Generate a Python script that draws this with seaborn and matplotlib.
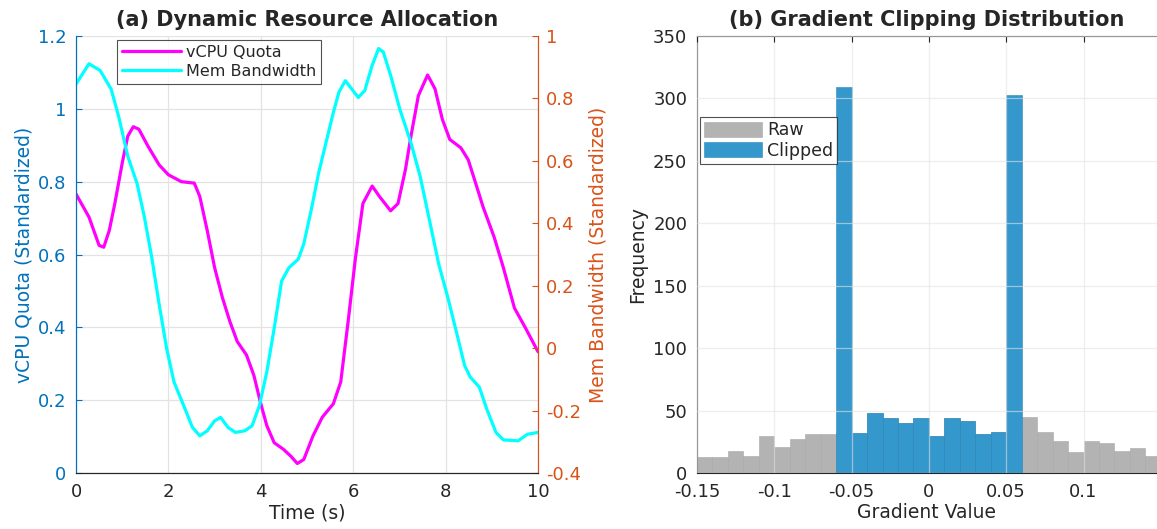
import matplotlib
matplotlib.use('Agg')
import matplotlib.pyplot as plt
import pandas as pd
import seaborn as sns

# ---- panel (a) data ----
t_cpu = [0.0, 0.28, 0.5, 0.6, 0.72, 0.84, 1.0, 1.12, 1.24, 1.36, 1.56, 1.8, 2.0, 2.28, 2.56,
         2.68, 2.84, 3.0, 3.17, 3.33, 3.49, 3.69, 3.85, 4.0, 4.13, 4.29, 4.49, 4.65, 4.79,
         4.93, 5.13, 5.33, 5.57, 5.73, 5.89, 6.05, 6.21, 6.41, 6.57, 6.81, 6.97, 7.13,
         7.25, 7.41, 7.61, 7.77, 7.93, 8.09, 8.33, 8.49, 8.65, 8.81, 9.05, 9.25, 9.49,
         9.73, 10.0]
vcpu = [0.766, 0.703, 0.625, 0.62, 0.666, 0.74, 0.851, 0.925, 0.951, 0.944, 0.897, 0.846,
        0.819, 0.80, 0.796, 0.759, 0.666, 0.564, 0.481, 0.416, 0.361, 0.324, 0.268, 0.19,
        0.13, 0.083, 0.065, 0.046, 0.026, 0.037, 0.102, 0.153, 0.19, 0.25, 0.416, 0.592,
        0.74, 0.788, 0.759, 0.72, 0.74, 0.833, 0.925, 1.036, 1.093, 1.055, 0.971, 0.916,
        0.893, 0.86, 0.796, 0.731, 0.648, 0.564, 0.453, 0.398, 0.333]

t_mem = [0.0, 0.28, 0.52, 0.76, 0.92, 1.12, 1.32, 1.48, 1.64, 1.8, 1.96, 2.12, 2.36, 2.52,
         2.68, 2.84, 3.0, 3.13, 3.29, 3.45, 3.65, 3.81, 3.97, 4.13, 4.29, 4.45, 4.61, 4.81,
         4.93, 5.09, 5.25, 5.41, 5.57, 5.69, 5.83, 5.97, 6.11, 6.25, 6.41, 6.55, 6.65,
         6.81, 7.01, 7.25, 7.45, 7.65, 7.85, 8.05, 8.25, 8.41, 8.53, 8.73, 8.89, 9.09,
         9.25, 9.57, 9.77, 10.0]
mem_bw = [0.846, 0.911, 0.89, 0.83, 0.744, 0.615, 0.528, 0.42, 0.29, 0.14, 0.0, -0.108,
          -0.195, -0.254, -0.281, -0.265, -0.233, -0.222, -0.254, -0.27, -0.265, -0.249,
          -0.184, -0.076, 0.064, 0.215, 0.258, 0.285, 0.334, 0.442, 0.56, 0.658, 0.755,
          0.82, 0.857, 0.83, 0.803, 0.825, 0.906, 0.96, 0.949, 0.874, 0.765, 0.658, 0.55,
          0.41, 0.27, 0.161, 0.042, -0.055, -0.092, -0.125, -0.195, -0.27, -0.294, -0.297,
          -0.276, -0.27]

# ---- panel (b) data: bin edges and counts ----
bin_edges = [round(-0.15 + 0.01 * i, 3) for i in range(31)]
raw_counts = [13, 13, 18, 14, 30, 21, 27, 31, 31,
              32, 32, 48, 44, 40, 44, 30, 44, 42, 31, 33, 33,
              45, 33, 26, 17, 26, 24, 18, 20, 14]
clip_counts = [0, 0, 0, 0, 0, 0, 0, 0, 0,
               309, 32, 48, 44, 40, 44, 30, 44, 42, 31, 33, 303,
               0, 0, 0, 0, 0, 0, 0, 0, 0]
bin_centers = [(a + b) / 2 for a, b in zip(bin_edges[:-1], bin_edges[1:])]
hist_df = pd.DataFrame({'grad': bin_centers, 'raw': raw_counts, 'clipped': clip_counts})

sns.set_style('white')
plt.rcParams['font.family'] = ['DejaVu Sans']

BLUE_AX = '#0072BD'
ORANGE_AX = '#D95319'
DARK = '#262626'
GRID = '#e3e3e3'
TICK_FS = 13
LABEL_FS = 13.5

fig = plt.figure(figsize=(11.57, 5.29), dpi=100)

# ---------------- (a) ----------------
ax1 = fig.add_axes([0.0657, 0.1059, 0.3993, 0.826])
ax2 = ax1.twinx()
sns.lineplot(x=t_cpu, y=vcpu, ax=ax1, color='#ff00ff', linewidth=2.3, sort=False,
             label='vCPU Quota', legend=False)
sns.lineplot(x=t_mem, y=mem_bw, ax=ax2, color='#00ffff', linewidth=2.3, sort=False,
             label='Mem Bandwidth', legend=False)
ax1.set_xlim(0, 10)
ax1.set_ylim(0, 1.2)
ax2.set_ylim(-0.4, 1.0)
ax1.set_xticks([0, 2, 4, 6, 8, 10])
ax1.set_yticks([0, 0.2, 0.4, 0.6, 0.8, 1.0, 1.2])
ax1.set_yticklabels(['0', '0.2', '0.4', '0.6', '0.8', '1', '1.2'])
ax2.set_yticks([-0.4, -0.2, 0, 0.2, 0.4, 0.6, 0.8, 1.0])
ax2.set_yticklabels(['-0.4', '-0.2', '0', '0.2', '0.4', '0.6', '0.8', '1'])
ax1.grid(True, color=GRID, linewidth=0.9)
ax1.set_axisbelow(True)
ax1.tick_params(axis='y', colors=BLUE_AX, direction='in', labelsize=TICK_FS, length=4, pad=7)
ax1.tick_params(axis='x', colors=DARK, direction='in', labelsize=TICK_FS, length=4, pad=7)
ax2.tick_params(axis='y', colors=ORANGE_AX, direction='in', labelsize=TICK_FS, length=4, pad=6)
ax1.set_xlabel('Time (s)', fontsize=LABEL_FS, color=DARK, labelpad=2)
ax1.set_ylabel('vCPU Quota (Standardized)', fontsize=LABEL_FS, color=BLUE_AX, labelpad=3)
ax2.set_ylabel('Mem Bandwidth (Standardized)', fontsize=LABEL_FS, color=ORANGE_AX, labelpad=5)
ax1.set_title('(a) Dynamic Resource Allocation', fontsize=15, fontweight='bold', pad=7)
for a in (ax1, ax2):
    a.spines['top'].set_visible(False)
    a.spines['left'].set_color(BLUE_AX)
    a.spines['right'].set_color(ORANGE_AX)
    a.spines['bottom'].set_color(DARK)
h1, l1 = ax1.get_legend_handles_labels()
h2, l2 = ax2.get_legend_handles_labels()
leg = ax1.legend(h1 + h2, l1 + l2, loc='upper left', bbox_to_anchor=(0.089, 0.991),
                 fontsize=11.5, frameon=True, fancybox=False, borderpad=0.3,
                 handlelength=3.7, handletextpad=0.3, labelspacing=0.25, borderaxespad=0)
leg.get_frame().set_edgecolor(DARK)
leg.get_frame().set_linewidth(0.8)

# ---------------- (b) ----------------
ax3 = fig.add_axes([0.6024, 0.1059, 0.3976, 0.826])
sns.histplot(data=hist_df, x='grad', weights='raw', bins=bin_edges, ax=ax3, color='#b3b3b3',
             alpha=1, edgecolor='#a8a8a8', linewidth=0.4, label='Raw')
sns.histplot(data=hist_df, x='grad', weights='clipped', bins=bin_edges, ax=ax3,
             color='#3498cc', alpha=1, edgecolor='#2c86b8', linewidth=0.4, label='Clipped')
ax3.set_xlim(-0.15, 0.1475)
ax3.set_ylim(0, 350)
ax3.set_xticks([-0.15, -0.1, -0.05, 0, 0.05, 0.1])
ax3.set_xticklabels(['-0.15', '-0.1', '-0.05', '0', '0.05', '0.1'])
ax3.set_yticks(range(0, 351, 50))
ax3.grid(True, color=GRID, linewidth=0.9)
ax3.set_axisbelow(False)
for ln in ax3.get_xgridlines() + ax3.get_ygridlines():
    ln.set_alpha(0.6)
ax3.tick_params(colors=DARK, direction='in', labelsize=TICK_FS, length=4, top=True, pad=7)
ax3.set_xlabel('Gradient Value', fontsize=LABEL_FS, color=DARK, labelpad=2)
ax3.set_ylabel('Frequency', fontsize=LABEL_FS, color=DARK, labelpad=4)
ax3.set_title('(b) Gradient Clipping Distribution', fontsize=15, fontweight='bold', pad=7)
for s in ('left', 'bottom', 'top'):
    ax3.spines[s].set_color(DARK)
ax3.spines['right'].set_visible(False)
leg3 = ax3.legend(loc='upper left', bbox_to_anchor=(0.0065, 0.815), fontsize=12.5,
                  frameon=True, fancybox=False, borderpad=0.25, handlelength=3.3,
                  handleheight=0.95, handletextpad=0.3, labelspacing=0.15, borderaxespad=0)
leg3.get_frame().set_edgecolor(DARK)
leg3.get_frame().set_linewidth(0.8)

fig.savefig('out.png', dpi=100)
